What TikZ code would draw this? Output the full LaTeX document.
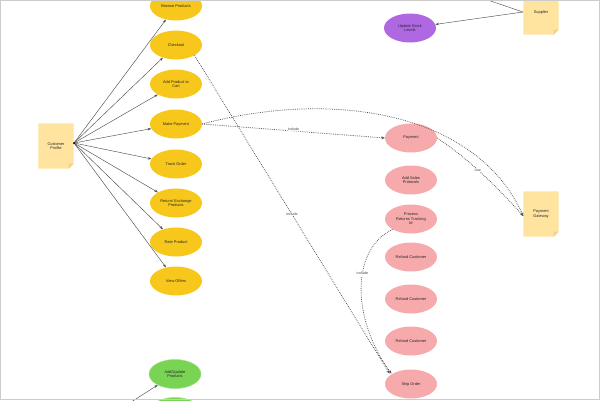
\documentclass[tikz,border=0pt]{standalone}
\usepackage{fontspec}
\setmainfont{Liberation Sans}
\usetikzlibrary{shapes.geometric,arrows.meta}
\definecolor{ucyellow}{RGB}{247,199,28}
\definecolor{ucpink}{RGB}{247,170,172}
\definecolor{ucpurple}{RGB}{176,104,226}
\definecolor{ucgreen}{RGB}{122,212,84}
\definecolor{ucnote}{RGB}{255,228,160}
\definecolor{ucfold}{RGB}{240,212,140}
\definecolor{ucline}{RGB}{80,80,80}
\tikzset{
  uc/.style={ellipse, minimum width=52pt, minimum height=29pt, inner sep=0pt, align=center,
    font=\fontsize{3.9}{4.5}\selectfont, text=black!85},
  ucy/.style={uc, fill=ucyellow},
  ucp/.style={uc, fill=ucpink},
  ucv/.style={uc, fill=ucpurple},
  ucg/.style={uc, fill=ucgreen, draw=ucgreen!70!white, line width=0.5pt},
  actor/.style={rectangle, minimum width=35pt, minimum height=45pt, inner sep=0pt,
    align=center, font=\fontsize{3.9}{4.5}\selectfont, text=black!85},
  assoc/.style={draw=ucline, line width=0.45pt, -{Stealth[length=3.5pt,width=2.6pt]}},
  dep/.style={draw=ucline, line width=0.75pt, dash pattern=on 0.75pt off 1.1pt, -{Stealth[length=3.5pt,width=2.8pt]}},
  lbl/.style={font=\fontsize{3.6}{4}\selectfont, text=black!75, fill=white, inner sep=0.6pt}
}
\begin{document}
\begin{tikzpicture}[x=1pt,y=-1pt]
\useasboundingbox (0,0) rectangle (600,400);
\clip (0,0) rectangle (600,400);
\fill[white] (0,0) rectangle (600,400);
% actors (notes)
\node[actor] (cp) at (56,146) {};
\node[actor] (sup) at (541,12) {};
\node[actor] (gw) at (541,214) {};
\foreach \n in {cp,sup,gw}{
  \fill[ucnote] (\n.north west) -- (\n.north east) -- ([yshift=5pt]\n.south east)
     -- ([xshift=-5pt]\n.south east) -- (\n.south west) -- cycle;
  \fill[ucfold] ([xshift=-5pt]\n.south east) -- ([xshift=-5pt,yshift=5pt]\n.south east) -- ([yshift=5pt]\n.south east) -- cycle;
}
\node[actor] at (cp) {Customer\\Profile};
\node[actor] at (sup) {Supplier};
\node[actor] at (gw) {Payment\\Gateway};
% yellow use cases
\node[ucy] (browse) at (176,6) {Browse Products};
\node[ucy] (checkout) at (176,45) {Checkout};
\node[ucy] (cart) at (176,84) {Add Product to\\Cart};
\node[ucy] (pay) at (176,124) {Make Payment};
\node[ucy] (track) at (176,164) {Track Order};
\node[ucy] (ret) at (176,203) {Return/ Exchange\\Products};
\node[ucy] (rate) at (176,242) {Rate Product};
\node[ucy] (offers) at (176,281) {View Offers};
% purple
\node[ucv] (stock) at (410,28) {Update Stock\\Levels};
% pink
\node[ucp] (payment) at (411,138) {Payment};
\node[ucp] (sales) at (411,180) {Add Sales\\Protocols};
\node[ucp] (proc) at (411,219) {Process\\Returns Tracking\\Id};
\node[ucp] (ref1) at (411,257) {Refund Customer};
\node[ucp] (ref2) at (411,299) {Refund Customer};
\node[ucp] (ref3) at (411,341) {Refund Customer};
\node[ucp] (ship) at (411,384) {Ship Order};
% green
\node[ucg] (addup) at (175,374) {Add/Update\\Products};
\node[ucg] (green2) at (175,412) {};
% free ends
\coordinate (cpx) at (74,143);
\coordinate (supx) at (523,12);
\coordinate (offtop) at (470,-6);
\coordinate (offbot) at (128,404);
% customer associations
\foreach \t in {browse,checkout,cart,pay,track,ret,rate,offers}
  \draw[assoc] (cpx) -- (\t);
\fill[black] (cpx) circle (1pt);
% supplier
\draw[assoc] (supx) -- (stock);
\draw[draw=ucline, line width=0.45pt] (supx) -- (offtop);
% admin (off picture)
\draw[assoc] (offbot) -- (addup);
% dependencies
\draw[dep] (pay.east) -- node[lbl, pos=0.5, above=-0.5pt, sloped] {include} (payment.west);
\draw[dep] (pay.east) .. controls (330,90) and (475,110) .. ([yshift=-2pt]gw.west);
\draw[dep] (payment.east) .. controls (470,160) and (495,185) .. node[lbl, pos=0.45] {Use} ([yshift=-2pt]gw.west);
\draw[dep] (checkout.south east) -- node[lbl, pos=0.5] {include} ([xshift=-3pt]ship.north west);
\draw[dep] (proc.south west) .. controls (350,250) and (352,320) .. node[lbl, pos=0.4] {include} ([xshift=-1pt]ship.north west);
\draw[gray!40, line width=0.6pt] (0.3,0.3) rectangle (599.7,399.7);
\end{tikzpicture}
\end{document}
